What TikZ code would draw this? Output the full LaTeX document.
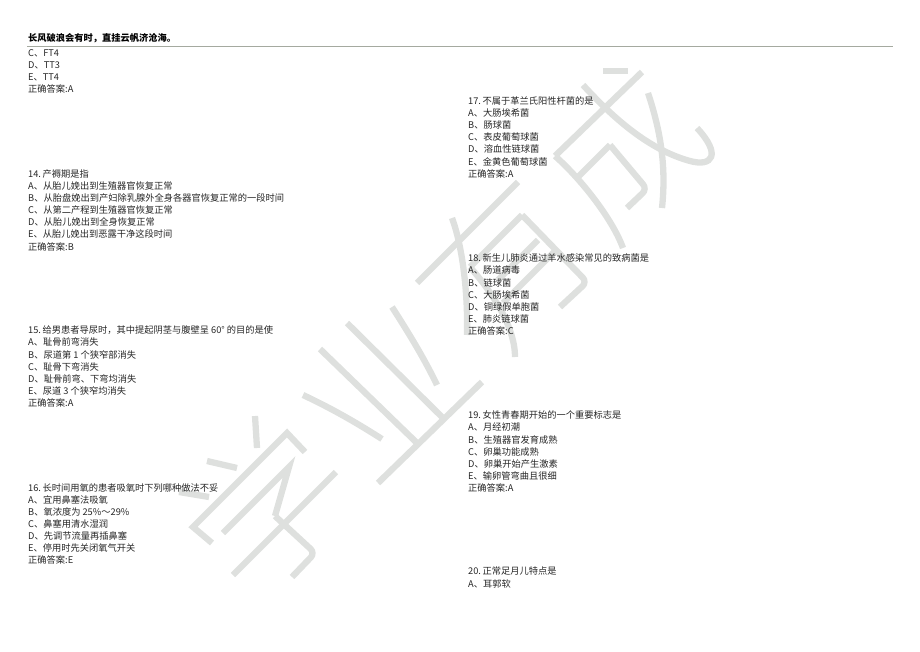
\documentclass[tikz,border=0pt]{standalone}
\usepackage{fontspec}
\setmainfont{Noto Sans CJK SC}
\definecolor{wmgray}{RGB}{222,224,222}
\definecolor{rulegray}{RGB}{165,170,160}
\tikzset{
    wmark/.style={draw=wmgray, line width=6.3pt},
    qblock/.style={anchor=north west, inner sep=0pt, align=left, text=black!85,
        font=\fontsize{9.25}{12.1}\selectfont},
}
\begin{document}
\begin{tikzpicture}[x=1pt, y=-1pt]
                    \useasboundingbox (0,0) rectangle (920,651);
                    %xue%
                    \draw[wmark] (255,416) -- (257,448);
                    \draw[wmark] (207,461) -- (237,468);
                    \draw[wmark] (179,492) -- (209,497);
                    \draw[wmark] (212,543) -- (193,527) -- (287,433) -- (305,452);
                    \draw[wmark] (223,533) -- (289,467) -- (275,516);
                    \draw[wmark, rounded corners=6pt] (275,516) -- (315,553) -- (292,577);
                    \draw[wmark] (233,575) -- (336,472);
                    %ye%
                    \draw[wmark] (303,395) .. controls (335,410) and (360,425) .. (382,439);
                    \draw[wmark] (320,349) -- (417,443);
                    \draw[wmark] (347,323) -- (442,417);
                    \draw[wmark] (392,307) .. controls (410,335) and (425,360) .. (437,385);
                    \draw[wmark] (378,483) -- (482,382);
                    %you%
                    \draw[wmark] (417,283) -- (518,182);
                    \draw[wmark] (452,218) .. controls (462,245) and (468,290) .. (467,335);
                    \draw[wmark] (470,267) -- (522,215);
                    \draw[wmark, rounded corners=6pt] (522,215) -- (587,282) -- (560,307);
                    \draw[wmark] (470,267) .. controls (490,290) and (515,325) .. (515,357);
                    \draw[wmark] (538,240) -- (498,280);
                    \draw[wmark] (556,250) -- (503,303);
                    %cheng%
                    \draw[wmark] (603,71) -- (628,71);
                    \draw[wmark] (642,72) -- (555,156);
                    \draw[wmark] (555,156) .. controls (580,178) and (612,218) .. (623,248);
                    \draw[wmark] (610,145) -- (578,177);
                    \draw[wmark, rounded corners=6pt] (610,145) -- (647,189) -- (627,208);
                    \draw[wmark] (583,85) .. controls (615,120) and (650,150) .. (690,161)
                        .. controls (712,167) and (722,155) .. (697,128);
                    \draw[wmark] (648,93) .. controls (662,135) and (666,170) .. (662,208);

                    \node[anchor=west, inner sep=0pt, font=\fontsize{9.25}{12}\selectfont\bfseries] (motto) at (28,38) {长风破浪会有时，直挂云帆济沧海。};
                    \coordinate (ruleL) at (27,46.5);
                    \coordinate (ruleR) at (893,46.5);
                    \draw[rulegray, line width=1.2pt] (ruleL) -- (ruleR);

                    \node[qblock] (qthirteen) at (28,49) {C、FT4\\D、TT3\\E、TT4\\正确答案:A};
                    \node[qblock] (qfourteen) at (28,169.5) {14.\,产褥期是指\\A、从胎儿娩出到生殖器官恢复正常\\B、从胎盘娩出到产妇除乳腺外全身各器官恢复正常的一段时间\\C、从第二产程到生殖器官恢复正常\\D、从胎儿娩出到全身恢复正常\\E、从胎儿娩出到恶露干净这段时间\\正确答案:B};
                    \node[qblock] (qfifteen) at (28,325.8) {15.\,给男患者导尿时，其中提起阴茎与腹壁呈 60° 的目的是使\\A、耻骨前弯消失\\B、尿道第 1 个狭窄部消失\\C、耻骨下弯消失\\D、耻骨前弯、下弯均消失\\E、尿道 3 个狭窄均消失\\正确答案:A};
                    \node[qblock] (qsixteen) at (28,483.2) {16.\,长时间用氧的患者吸氧时下列哪种做法不妥\\A、宜用鼻塞法吸氧\\B、氧浓度为 25\%～29\%\\C、鼻塞用清水湿润\\D、先调节流量再插鼻塞\\E、停用时先关闭氧气开关\\正确答案:E};
                    \node[qblock] (qseventeen) at (468,96.5) {17.\,不属于革兰氏阳性杆菌的是\\A、大肠埃希菌\\B、肠球菌\\C、表皮葡萄球菌\\D、溶血性链球菌\\E、金黄色葡萄球菌\\正确答案:A};
                    \node[qblock] (qeighteen) at (468,253.8) {18.\,新生儿肺炎通过羊水感染常见的致病菌是\\A、肠道病毒\\B、链球菌\\C、大肠埃希菌\\D、铜绿假单胞菌\\E、肺炎链球菌\\正确答案:C};
                    \node[qblock] (qnineteen) at (468,410.8) {19.\,女性青春期开始的一个重要标志是\\A、月经初潮\\B、生殖器官发育成熟\\C、卵巢功能成熟\\D、卵巢开始产生激素\\E、输卵管弯曲且很细\\正确答案:A};
                    \node[qblock] (qtwenty) at (468,567) {20.\,正常足月儿特点是\\A、耳郭软};
                \end{tikzpicture}
\end{document}
